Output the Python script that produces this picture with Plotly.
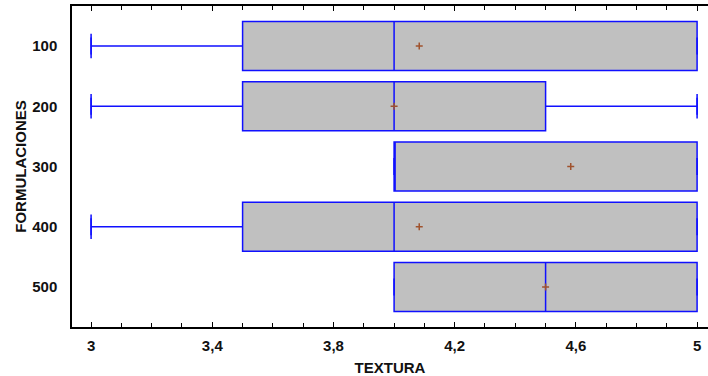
import plotly.graph_objects as go

categories = ["100", "200", "300", "400", "500"]
lower_fence = [3.0, 3.0, 4.0, 3.0, 4.0]
q1 = [3.5, 3.5, 4.0, 3.5, 4.0]
median = [4.0, 4.0, 4.0, 4.0, 4.5]
q3 = [5.0, 4.5, 5.0, 5.0, 5.0]
upper_fence = [5.0, 5.0, 5.0, 5.0, 5.0]
means = [4.083, 4.0, 4.583, 4.083, 4.5]

x_ticks = [3.0, 3.4, 3.8, 4.2, 4.6, 5.0]
x_tick_labels = ["3", "3,4", "3,8", "4,2", "4,6", "5"]

BLUE = "#1010ff"
FONT = "Liberation Sans Narrow, Arial Narrow, Liberation Sans, Arial"
TXT = "#111"

fig = go.Figure()

fig.add_trace(go.Box(
    y=categories, q1=q1, median=median, q3=q3,
    lowerfence=lower_fence, upperfence=upper_fence,
    orientation="h", width=0.81,
    fillcolor="#c0c0c0", line=dict(color=BLUE, width=1.5),
    boxpoints=False, showlegend=False,
))

# whisker caps
fig.add_trace(go.Scatter(
    x=lower_fence + upper_fence, y=categories + categories,
    mode="markers",
    marker=dict(symbol="line-ns", size=12, line=dict(color=BLUE, width=1.5)),
    showlegend=False, hoverinfo="skip",
))

# means
fig.add_trace(go.Scatter(
    x=means, y=categories, mode="markers",
    marker=dict(symbol="cross-thin", size=5, line=dict(color="#a0522d", width=1.5)),
    showlegend=False,
))

fig.update_layout(
    width=708, height=376,
    margin=dict(l=72, r=0, t=6, b=49),
    paper_bgcolor="white", plot_bgcolor="white",
    separators=",.",
    font=dict(family=FONT, size=15, color=TXT),
    xaxis=dict(
        range=[2.937, 5.036],
        tickmode="array", tickvals=x_ticks,
        ticktext=["<b>%s</b>" % t for t in x_tick_labels],
        ticks="inside", ticklen=5, tickwidth=1.2, tickcolor="black",
        minor=dict(dtick=0.1, tick0=3.0, ticks="inside", ticklen=4, tickwidth=1.2, tickcolor="black", showgrid=False),
        showline=True, linecolor="black", linewidth=1.5,
        mirror="allticks", showgrid=False, zeroline=False,
        ticklabelstandoff=4,
        tickfont=dict(family=FONT, size=15, color=TXT),
        title=dict(text="<b>TEXTURA</b>", font=dict(family=FONT, size=15, color=TXT), standoff=10),
    ),
    yaxis=dict(
        type="category", categoryorder="array", categoryarray=categories,
        range=[4.664, -0.664],
        tickmode="array", tickvals=categories, ticktext=["<b>%s</b>" % c for c in categories],
        showline=True, linecolor="black", linewidth=1.5,
        ticks="", showgrid=False, zeroline=False, ticklabelstandoff=10,
        tickfont=dict(family=FONT, size=15, color=TXT),
        title=dict(text="<b>FORMULACIONES</b>", font=dict(family=FONT, size=15, color=TXT), standoff=2),
    ),
)

fig.write_html("out.html")
